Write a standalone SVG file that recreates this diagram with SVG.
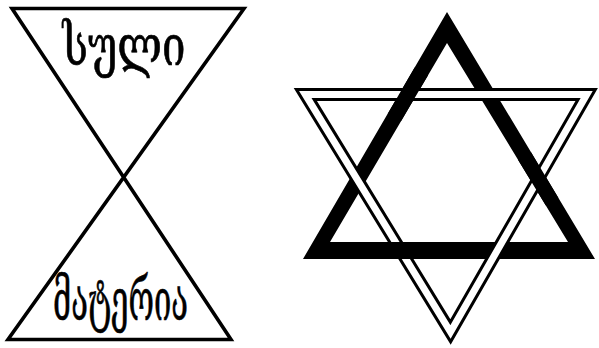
<svg xmlns="http://www.w3.org/2000/svg" width="599" height="348" viewBox="0 0 599 348">
<style>
.geo{font-family:"DejaVu Serif","DejaVu Sans",serif;fill:#000;stroke:#000;stroke-width:0.7;}
.line{fill:none;stroke:#000;stroke-linejoin:miter;stroke-miterlimit:10;}
</style>
<defs>
<path id="thick" d="M447,12 L303,259 L595,259 Z M447,43 L568,242 L330,242 Z" fill="#000" fill-rule="evenodd"/>
<clipPath id="over"><circle cx="408" cy="94.5" r="28"/><circle cx="400" cy="250" r="28"/><circle cx="538" cy="179" r="28"/></clipPath>
</defs>
<rect width="599" height="348" fill="#fff"/>
<g id="hourglass">
<path class="line" stroke-width="3.6" d="M12,8.5 L244,8.5 L8,339.5 L231,339.5 Z"/>
</g>
<g id="label-soul">
<text class="geo" x="124" y="65" font-size="57" text-anchor="middle" textLength="123" lengthAdjust="spacingAndGlyphs">სული</text>
</g>
<g id="label-matter">
<text class="geo" x="120.5" y="320" font-size="58" text-anchor="middle" textLength="135" lengthAdjust="spacingAndGlyphs">მატერია</text>
</g>
<g id="star">
<g id="star-thick"><use href="#thick"/></g>
<g id="star-double">
<path d="M305.3,94.5 L586.7,94.5 L450.5,332 Z" fill="none" stroke="#000" stroke-width="13" stroke-linejoin="miter" stroke-miterlimit="10"/>
<path d="M305.3,94.5 L586.7,94.5 L450.5,332 Z" fill="none" stroke="#fff" stroke-width="7" stroke-linejoin="miter" stroke-miterlimit="10"/>
</g>
<g id="star-thick-over" clip-path="url(#over)"><use href="#thick"/></g>
</g>
</svg>
